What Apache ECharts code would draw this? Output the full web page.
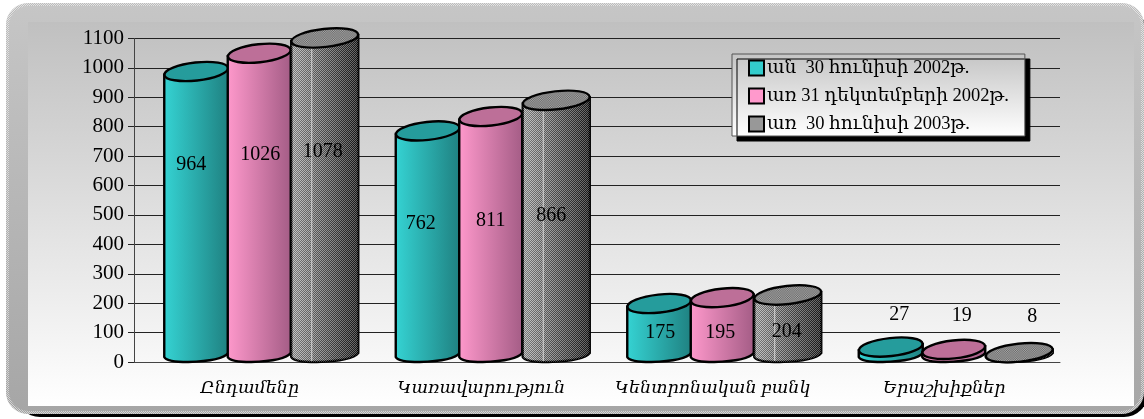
<!DOCTYPE html>
<html><head><meta charset="utf-8">
<style>html,body{margin:0;padding:0;background:#fff}#c{width:1144px;height:419px}</style>
<script src="https://cdn.jsdelivr.net/npm/echarts@6/dist/echarts.min.js"></script></head>
<body><div id="c"></div>
<script>
const categories = ['Ընդամենը','Կառավարություն','Կենտրոնական բանկ','Երաշխիքներ'];
const seriesNames = ['ան  30 հունիսի 2002թ.','առ 31 դեկտեմբերի 2002թ.','առ  30 հունիսի 2003թ.'];
const june2002 = [964,762,175,27];
const dec2002 = [1026,811,195,19];
const june2003 = [1078,866,204,8];
const yMin = 0, yMax = 1100, yStep = 100;

const FONT = '"Liberation Serif","DejaVu Serif",serif';
const palette = [
  {side:['#35d4d4','#1f8080'], top:'#259c9c'},
  {side:['#ff99cc','#a35c85'], top:'#bd6f98'},
  {side:['#b4b4b4','#1c1c1c'], top:'#8a8a8a'}
];
function checker(a,b){
  const cv=document.createElement('canvas');cv.width=2;cv.height=2;
  const x=cv.getContext('2d');
  x.fillStyle=a;x.fillRect(0,0,1,1);x.fillRect(1,1,1,1);
  x.fillStyle=b;x.fillRect(1,0,1,1);x.fillRect(0,1,1,1);
  return cv;
}
const chk=checker('rgba(255,255,255,0.30)','rgba(0,0,0,0.30)');
const legendChk=checker('#e0e0e0','#505050');
const edgeChk=checker('rgba(255,255,255,0.5)','rgba(150,150,150,0.2)');
// layout, in pixels relative to each band / cylinder
const centerOff=[-53.5,9.5,75];
const widths=[64,63,67];
const labelAt=[
  [[-5,197],[-7,138],[1,29],[8.5,47]],
  [[1,207],[0,141],[-2,29],[8,46]],
  [[-2,210],[-5,146],[-1,30],[13,45]]
];
function cyl(si){
  return function(params,api){
    const ci=api.value(0), v=api.value(1);
    const base=api.coord([ci,0]), top=api.coord([ci,v]);
    const cx=base[0]+centerOff[si], w=widths[si], rx=w/2, ry=9, lift=7;
    const yb=base[1]-lift, yt=top[1]-lift, x0=cx-rx;
    const p=palette[si];
    const side={type:'linear',x:0,y:0,x2:1,y2:0,colorStops:[{offset:0,color:p.side[0]},{offset:1,color:p.side[1]}]};
    const path=`M${x0} ${yt+3}L${x0} ${yb+2}Q${x0+2} ${yb+7} ${cx-8} ${yb+7}Q${cx+rx-6} ${yb+6} ${x0+w} ${yb-2}L${x0+w} ${yt-3}Z`;
    const tilt=0.11, ell={cx:0,cy:0,rx:rx,ry:ry};
    const kids=[{type:'path',shape:{pathData:path},style:{fill:side,stroke:'#000',lineWidth:2.4}}];
    if(si===2){
      kids.push({type:'path',shape:{pathData:path},style:{fill:{image:chk,repeat:'repeat'},stroke:null}});
      kids.push({type:'line',shape:{x1:x0+20.5,y1:yt+8,x2:x0+20.5,y2:yb+6},style:{stroke:'rgba(235,235,235,0.8)',lineWidth:1}});
    }
    kids.push({type:'ellipse',shape:ell,x:cx,y:yt,rotation:tilt,style:{fill:p.top,stroke:'#000',lineWidth:2.4}});
    if(si===2) kids.push({type:'ellipse',shape:{cx:0,cy:0,rx:rx-1,ry:ry-1},x:cx,y:yt,rotation:tilt,style:{fill:{image:chk,repeat:'repeat'},stroke:null}});
    const L=labelAt[si][ci];
    kids.push({type:'text',x:cx+L[0],y:base[1]-L[1],style:{text:String(v),fill:'#000',font:'20px '+FONT,textAlign:'center',textVerticalAlign:'middle'}});
    return {type:'group',children:kids};
  };
}
const legendColor=['#33cccc','#ff99cc',{image:legendChk,repeat:'repeat'}];
const mk=(i,d)=>({name:seriesNames[i],type:'custom',renderItem:cyl(i),z:3+i,encode:{x:0,y:1},
  data:d.map((v,k)=>[k,v]),itemStyle:{color:legendColor[i],borderColor:'#000',borderWidth:2.5}});
const chart=echarts.init(document.getElementById('c'),null,{renderer:'canvas'});
chart.setOption({
  animation:false,
  backgroundColor:'#fff',
  textStyle:{fontFamily:FONT},
  graphic:[
    {type:'rect',z:-5,shape:{x:16,y:10,width:1132,height:407,r:24},style:{fill:'#000'}},
    {type:'rect',z:-4,shape:{x:6,y:3,width:1138,height:411,r:22},
      style:{fill:{type:'linear',x:0,y:0,x2:0,y2:1,colorStops:[{offset:0,color:'#c6c6c6'},{offset:1,color:'#a6a6a6'}]}}},
    {type:'rect',z:-3,shape:{x:7.5,y:4.5,width:1135,height:408,r:21},
      style:{fill:null,stroke:{image:edgeChk,repeat:'repeat'},lineWidth:3}},
    {type:'rect',z:-2,shape:{x:28,y:22,width:1106,height:384,r:0},
      style:{fill:{type:'linear',x:0,y:0,x2:0,y2:1,colorStops:[{offset:0,color:'#c0c0c0'},{offset:1,color:'#ffffff'}]}}}
  ],
  grid:{left:134,right:84,top:38.5,bottom:57},
  legend:{left:732,top:54,orient:'vertical',itemWidth:15,itemHeight:15,itemGap:9,padding:[4.5,16,2.5,16],
    selectedMode:false,borderColor:'#555',borderWidth:1,shadowColor:'#000',shadowBlur:0,shadowOffsetX:5,shadowOffsetY:5,
    backgroundColor:{type:'linear',x:0,y:0,x2:0,y2:1,colorStops:[{offset:0,color:'#c4c4c4'},{offset:1,color:'#ffffff'}]},
    textStyle:{fontFamily:FONT,fontSize:18.5,color:'#000',padding:[0,0,0,-2]},icon:'rect',data:seriesNames},
  xAxis:{type:'category',data:categories,axisTick:{show:false},axisLine:{lineStyle:{color:'#444',width:1}},
    axisLabel:{interval:0,fontFamily:FONT,fontSize:17.5,fontStyle:'italic',color:'#000',margin:17}},
  yAxis:{type:'value',min:yMin,max:yMax,interval:yStep,
    axisLine:{show:true,lineStyle:{color:'#444',width:1}},axisTick:{show:true,length:6,lineStyle:{color:'#222'}},
    splitLine:{lineStyle:{color:'#222',width:1}},
    axisLabel:{fontFamily:FONT,fontSize:21,color:'#000',margin:10,formatter:v=>String(v)}},
  series:[mk(0,june2002),mk(1,dec2002),mk(2,june2003)]
});
</script></body></html>
